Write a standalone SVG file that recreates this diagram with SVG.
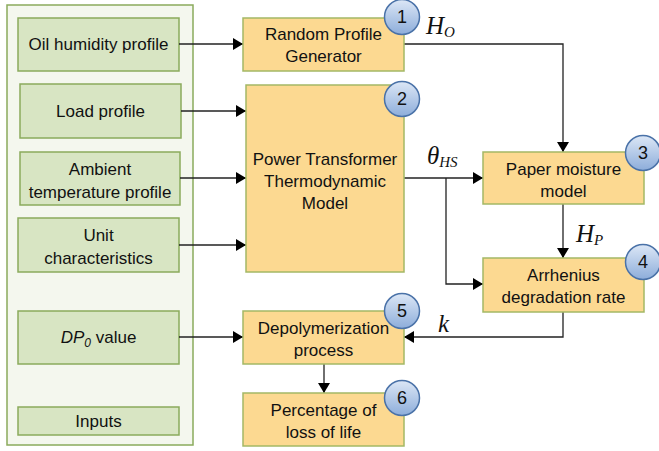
<svg xmlns="http://www.w3.org/2000/svg" width="659" height="451" viewBox="0 0 659 451">
  <defs>
    <marker id="arrow" viewBox="0 0 10 12" refX="10" refY="6" markerWidth="10" markerHeight="12" markerUnits="userSpaceOnUse" orient="auto">
      <path d="M0,0 L10,6 L0,12 Z" fill="#000"/>
    </marker>
    <linearGradient id="badgeFill" x1="0" y1="0" x2="0" y2="1">
      <stop offset="0" stop-color="#dce7f6"/>
      <stop offset="1" stop-color="#8dadda"/>
    </linearGradient>
  </defs>
  <style>
    .panel { fill: #f4f7ee; stroke: #8aab5c; stroke-width: 1.5; }
    .input { fill: #d8e5c3; stroke: #8aab5c; stroke-width: 1.5; }
    .block { fill: #fcd991; stroke: #a4b865; stroke-width: 1.5; }
    .badge { fill: url(#badgeFill); stroke: #4a72a8; stroke-width: 1.5; }
    .lbl { font-family: "Liberation Sans", Arial, sans-serif; font-size: 17px; fill: #111; text-anchor: middle; }
    .num { font-family: "Liberation Sans", Arial, sans-serif; font-size: 18px; fill: #111; text-anchor: middle; }
    .math { font-family: "Liberation Serif", "Times New Roman", serif; font-style: italic; font-size: 25px; fill: #111; }
    .sub { font-size: 15px; }
    .wire { fill: none; stroke: #222; stroke-width: 1.3; }
  </style>

  <!-- input panel -->
  <rect class="panel" x="7" y="5" width="186" height="440"/>

  <g id="oil-humidity">
    <rect class="input" x="18" y="18" width="161" height="53"/>
    <text class="lbl" x="98.5" y="50">Oil humidity profile</text>
  </g>
  <g id="load-profile">
    <rect class="input" x="20" y="84" width="161" height="54"/>
    <text class="lbl" x="100.5" y="117">Load profile</text>
  </g>
  <g id="ambient-temp">
    <rect class="input" x="20" y="152" width="160" height="53"/>
    <text class="lbl" x="100" y="175">Ambient</text>
    <text class="lbl" x="100" y="198">temperature profile</text>
  </g>
  <g id="unit-char">
    <rect class="input" x="18" y="218" width="161" height="54"/>
    <text class="lbl" x="98.5" y="241">Unit</text>
    <text class="lbl" x="98.5" y="264">characteristics</text>
  </g>
  <g id="dp0">
    <rect class="input" x="18" y="311" width="161" height="53"/>
    <text class="lbl" x="98.5" y="343"><tspan font-style="italic">DP</tspan><tspan font-style="italic" font-size="12px" dy="4">0</tspan><tspan dy="-4"> value</tspan></text>
  </g>
  <g id="inputs-label">
    <rect class="input" x="18" y="407" width="161" height="28"/>
    <text class="lbl" x="98.5" y="427">Inputs</text>
  </g>

  <!-- connectors -->
  <g id="connectors">
    <line class="wire" x1="179" y1="44" x2="243" y2="44" marker-end="url(#arrow)"/>
    <line class="wire" x1="181" y1="111" x2="246" y2="111" marker-end="url(#arrow)"/>
    <line class="wire" x1="180" y1="178" x2="246" y2="178" marker-end="url(#arrow)"/>
    <line class="wire" x1="179" y1="245" x2="246" y2="245" marker-end="url(#arrow)"/>
    <line class="wire" x1="179" y1="337" x2="243" y2="337" marker-end="url(#arrow)"/>
    <polyline class="wire" points="404,44 563,44 563,152" marker-end="url(#arrow)"/>
    <line class="wire" x1="404" y1="178" x2="483" y2="178" marker-end="url(#arrow)"/>
    <polyline class="wire" points="446,178 446,284 483,284" marker-end="url(#arrow)"/>
    <line class="wire" x1="563" y1="204" x2="563" y2="258" marker-end="url(#arrow)"/>
    <polyline class="wire" points="563,312 563,337 404,337" marker-end="url(#arrow)"/>
    <line class="wire" x1="324" y1="364" x2="324" y2="393" marker-end="url(#arrow)"/>
    <text class="math" x="426" y="34">H<tspan class="sub" dy="3">O</tspan></text>
    <text class="math" x="427" y="164">θ<tspan class="sub" dy="3">HS</tspan></text>
    <text class="math" x="576" y="242">H<tspan class="sub" dy="3">P</tspan></text>
    <text class="math" x="438" y="332">k</text>
  </g>

  <g id="random-profile">
    <rect class="block" x="243" y="18" width="161" height="53"/>
    <text class="lbl" x="323.5" y="40">Random Profile</text>
    <text class="lbl" x="323.5" y="62">Generator</text>
    <circle class="badge" cx="402" cy="17" r="17.5"/>
    <text class="num" x="402" y="23">1</text>
  </g>
  <g id="power-transformer">
    <rect class="block" x="246" y="85" width="158" height="187"/>
    <text class="lbl" x="325" y="165">Power Transformer</text>
    <text class="lbl" x="325" y="187">Thermodynamic</text>
    <text class="lbl" x="325" y="209">Model</text>
    <circle class="badge" cx="402" cy="99" r="17.5"/>
    <text class="num" x="402" y="105">2</text>
  </g>
  <g id="paper-moisture">
    <rect class="block" x="483" y="152" width="161" height="52"/>
    <text class="lbl" x="563.5" y="175">Paper moisture</text>
    <text class="lbl" x="563.5" y="197">model</text>
    <circle class="badge" cx="643" cy="153" r="17.5"/>
    <text class="num" x="643" y="159">3</text>
  </g>
  <g id="arrhenius">
    <rect class="block" x="483" y="258" width="161" height="54"/>
    <text class="lbl" x="563.5" y="281">Arrhenius</text>
    <text class="lbl" x="563.5" y="303">degradation rate</text>
    <circle class="badge" cx="643" cy="262" r="17.5"/>
    <text class="num" x="643" y="268">4</text>
  </g>
  <g id="depolymerization">
    <rect class="block" x="243" y="311" width="161" height="53"/>
    <text class="lbl" x="323.5" y="334">Depolymerization</text>
    <text class="lbl" x="323.5" y="356">process</text>
    <circle class="badge" cx="402" cy="311" r="17.5"/>
    <text class="num" x="402" y="317">5</text>
  </g>
  <g id="loss-of-life">
    <rect class="block" x="243" y="393" width="161" height="53"/>
    <text class="lbl" x="323.5" y="416">Percentage of</text>
    <text class="lbl" x="323.5" y="438">loss of life</text>
    <circle class="badge" cx="402" cy="398" r="17.5"/>
    <text class="num" x="402" y="404">6</text>
  </g>
</svg>
